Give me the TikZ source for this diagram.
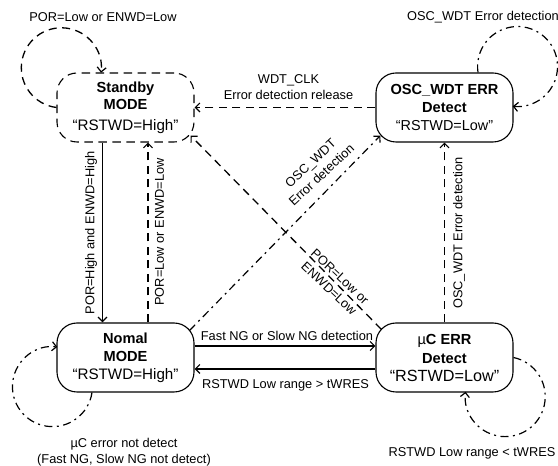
\documentclass[tikz,border=0pt]{standalone}
\usepackage{fontspec}
\setmainfont{Liberation Sans}
\usetikzlibrary{arrows.meta}
\newcommand{\stname}{\fontsize{14.6}{18}\selectfont\bfseries}
\newcommand{\stmid}{\fontsize{15.2}{18}\selectfont}
\newcommand{\stlow}{\fontsize{14.4}{18}\selectfont}
\newcommand{\stbig}{\fontsize{16.2}{18}\selectfont}
\tikzset{
  x=1pt,y=1pt,
  state/.style={draw=black,line width=1.1pt,rounded corners=20pt,minimum width=137pt,minimum height=69pt,inner sep=0pt,align=center,fill=white,font=\fontsize{14.6}{18}\selectfont},
  statedash/.style={state,dash pattern=on 8.5pt off 5.5pt,font=\fontsize{14.6}{17}\selectfont},
  tip/.style={-{Straight Barb[length=4.5pt,width=9pt,line width=1.2pt]}},
  solidline/.style={tip,line width=1.5pt},
  dashline/.style={tip,line width=1.3pt,dash pattern=on 8pt off 5.5pt},
  dotline/.style={tip,line width=1.2pt,dash pattern=on 8pt off 4.5pt on 2pt off 4.5pt},
  lab/.style={inner sep=0pt,align=center,font=\fontsize{12.8}{16}\selectfont},
}
\begin{document}
\begin{tikzpicture}
\useasboundingbox (0,0) rectangle (558,466);
\node[statedash] (sb) at (125.5,358.5) {{\stname Standby}\\{\stname MODE}\\[4pt]{\stmid “RSTWD=High”}};
\node[state] (os) at (444.5,358.5) {{\stname OSC\_WDT ERR}\\{\stname Detect}\\{\stlow “RSTWD=Low”}};
\node[state] (nm) at (125.5,108.5) {{\stname Nomal}\\{\stname MODE}\\{\stmid “RSTWD=High”}};
\node[state] (uc) at (444.5,108.5) {{\stname\mdseries µ\bfseries C ERR}\\[1pt]{\stname Detect}\\{\stbig “RSTWD=Low”}};

\draw[dashline] (sb.west) arc[start angle=263,end angle=-7,radius=40];
\draw[dotline] ([xshift=33.5pt]os.north) arc[start angle=188.5,end angle=-97,radius=40];
\draw[dotline] ([xshift=-33.5pt]nm.south) arc[start angle=-8.5,end angle=-277,radius=40];
\draw[dotline] (uc.east) arc[start angle=78,end angle=-187,radius=40];

\draw[solidline] ([xshift=-23pt]sb.south) -- ([xshift=-23pt]nm.north);
\draw[dashline] ([xshift=22.5pt]nm.north) -- ([xshift=22.5pt]sb.south);
\draw[dashline] (os.west) -- (sb.east);
\draw[dashline] (uc.north) -- (os.south);
\draw[dotline] ([shift={(-5,-8)}]nm.north east) -- ([shift={(5,7)}]os.south west);
\draw[dashline] ([shift={(6,-7)}]uc.north west) -- ([shift={(-4,7)}]sb.south east);
\draw[solidline] ([yshift=11.5pt]nm.east) -- ([yshift=11.5pt]uc.west);
\draw[solidline] ([yshift=-11.5pt]uc.west) -- ([yshift=-11.5pt]nm.east);

\node[lab] (l1) at (103,449) {POR=Low or ENWD=Low};
\node[lab] (l2) at (483,449) {OSC\_WDT Error detection};
\node[lab] (l3) at (288.5,378.5) {WDT\_CLK\\Error detection release};
\node[lab,rotate=90] (l4) at (91,233) {POR=High and ENWD=High};
\node[lab,rotate=90] (l5) at (159.5,234) {POR=Low or ENWD=Low};
\node[lab,rotate=90] (l6) at (459,233) {OSC\_WDT Error detection};
\node[lab,rotate=43] (l7) at (316,297) {OSC\_WDT\\Error detection};
\node[lab,rotate=-43] (l8) at (334.5,183.5) {POR=Low or\\ENWD=Low};
\node[lab] (l9) at (287,130) {Fast NG or Slow NG detection};
\node[lab] (l10) at (285.5,81) {RSTWD Low range > tWRES};
\node[lab] (l11) at (124,13.5) {µC error not detect\\(Fast NG, Slow NG not detect)};
\node[lab] (l12) at (472,13) {RSTWD Low range < tWRES};
\end{tikzpicture}
\end{document}
